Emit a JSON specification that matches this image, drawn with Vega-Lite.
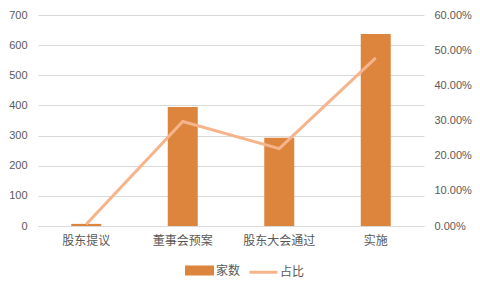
{
  "$schema": "https://vega.github.io/schema/vega-lite/v6.json",
  "autosize": "none",
  "width": 386,
  "height": 211,
  "padding": {"left": 38, "top": 15, "right": 56, "bottom": 63},
  "background": "white",
  "data": {
    "values": [
      {"阶段": "股东提议", "家数": 7, "占比": 0.005},
      {"阶段": "董事会预案", "家数": 395, "占比": 0.297},
      {"阶段": "股东大会通过", "家数": 293, "占比": 0.22},
      {"阶段": "实施", "家数": 637, "占比": 0.478}
    ]
  },
  "encoding": {
    "x": {
      "field": "阶段",
      "type": "nominal",
      "sort": null,
      "scale": {"paddingInner": 0, "paddingOuter": 0},
      "axis": {
        "title": null,
        "labelAngle": 0,
        "ticks": false,
        "domain": true,
        "domainColor": "#d9d9d9",
        "labelPadding": 9,
        "labelFontSize": 12,
        "labelColor": "#595959",
        "labelFont": "Noto Sans CJK SC"
      }
    }
  },
  "layer": [
    {
      "mark": {"type": "bar", "size": 30},
      "encoding": {
        "y": {
          "field": "家数",
          "type": "quantitative",
          "scale": {"domain": [0, 700]},
          "axis": {
            "title": null,
            "values": [0, 100, 200, 300, 400, 500, 600, 700],
            "ticks": false,
            "domain": false,
            "gridColor": "#d9d9d9",
            "labelPadding": 11,
            "labelFontSize": 11,
            "labelColor": "#595959",
            "labelFont": "Liberation Sans"
          }
        },
        "color": {
          "datum": "家数",
          "type": "nominal",
          "legend": {
            "orient": "none",
            "direction": "horizontal",
            "legendX": 146,
            "legendY": 240,
            "encode": {
              "symbols": {
                "update": {
                  "shape": {"signal": "datum.value === '家数' ? 'M-0.93,-0.25H0.93V0.25H-0.93Z' : 'M-1,0H1'"},
                  "fill": {"signal": "datum.value === '家数' ? '#DD843D' : 'transparent'"},
                  "stroke": {"signal": "datum.value === '家数' ? 'transparent' : '#F6B48C'"},
                  "strokeWidth": {"value": 3},
                  "opacity": {"value": 1},
                  "size": {"value": 784}
                }
              }
            }
          }
        }
      }
    },
    {
      "mark": {"type": "line", "strokeWidth": 3},
      "encoding": {
        "y": {
          "field": "占比",
          "type": "quantitative",
          "scale": {"domain": [0, 0.6]},
          "axis": {
            "title": null,
            "orient": "right",
            "format": ".2%",
            "values": [0, 0.1, 0.2, 0.3, 0.4, 0.5, 0.6],
            "grid": false,
            "ticks": false,
            "domain": false,
            "labelPadding": 10,
            "labelFontSize": 11,
            "labelColor": "#595959",
            "labelFont": "Liberation Sans"
          }
        },
        "color": {"datum": "占比", "type": "nominal"}
      }
    }
  ],
  "resolve": {"scale": {"y": "independent"}},
  "config": {
    "view": {"stroke": null},
    "range": {"category": ["#DD843D", "#F6B48C"]},
    "legend": {
      "title": null,
      "labelFontSize": 12,
      "labelColor": "#595959",
      "labelFont": "Noto Sans CJK SC",
      "symbolSize": 784,
      "labelOffset": 1,
      "columnPadding": 2,
      "padding": 0
    }
  }
}
